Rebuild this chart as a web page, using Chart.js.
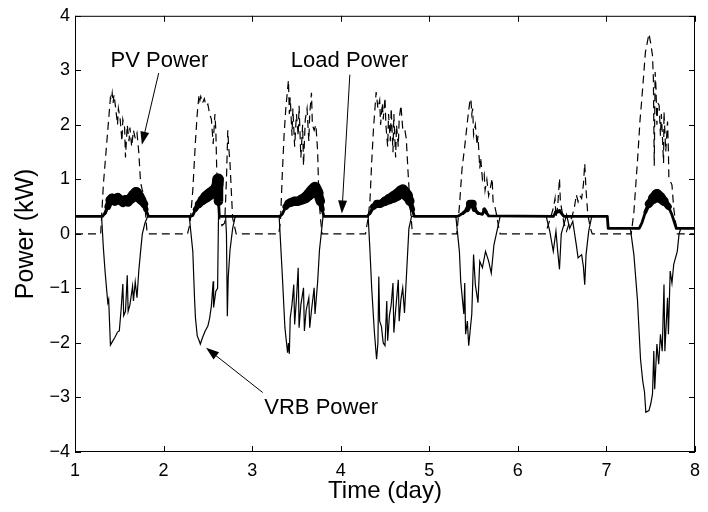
<!DOCTYPE html>
<html>
<head>
<meta charset="utf-8">
<script src="https://cdn.jsdelivr.net/npm/chart.js@4.4.0/dist/chart.umd.min.js"></script>
<style>
  html, body { margin: 0; padding: 0; background: #fff; }
  #chart { display: block; }
</style>
</head>
<body>
<canvas id="chart" width="708" height="512"></canvas>
<script>
// axis ticks
const xTicks = [1, 2, 3, 4, 5, 6, 7, 8];
const yTicks = [-4, -3, -2, -1, 0, 1, 2, 3, 4];

// PV power (kW), dashed
const pvTime = [
  1.00, 1.29, 1.32, 1.35, 1.38, 1.40, 1.41, 1.42, 1.43, 1.44, 1.46, 1.48, 1.49, 1.51, 1.53, 1.54, 1.56, 1.57, 1.59, 1.61, 1.62, 1.64, 1.66, 1.68, 1.70, 1.72, 1.74, 1.76, 1.78, 1.815,
  2.27, 2.30, 2.33, 2.36, 2.38, 2.40, 2.41, 2.42, 2.44, 2.46, 2.48, 2.50, 2.52, 2.54, 2.56, 2.58, 2.59, 2.60, 2.615, 2.63, 2.66, 2.69, 2.71, 2.725, 2.735, 2.75, 2.765, 2.78, 2.82,
  3.30, 3.32, 3.34, 3.36, 3.38, 3.41, 3.42, 3.43, 3.45, 3.46, 3.48, 3.50, 3.52, 3.53, 3.55, 3.57, 3.58, 3.60, 3.62, 3.64, 3.65, 3.67, 3.68, 3.70, 3.72, 3.74, 3.75, 3.77, 3.79,
  4.28, 4.31, 4.33, 4.35, 4.37, 4.40, 4.42, 4.44, 4.45, 4.47, 4.48, 4.50, 4.51, 4.53, 4.54, 4.56, 4.57, 4.59, 4.60, 4.62, 4.63, 4.65, 4.66, 4.68, 4.70, 4.72, 4.74, 4.76, 4.78, 4.81,
  5.31, 5.34, 5.37, 5.40, 5.42, 5.44, 5.46, 5.47, 5.48, 5.49, 5.50, 5.52, 5.54, 5.55, 5.57, 5.58, 5.60, 5.62, 5.63, 5.65, 5.67, 5.69, 5.71, 5.72, 5.74, 5.76, 5.78, 5.80,
  6.31, 6.34, 6.37, 6.40, 6.42, 6.43, 6.45, 6.47, 6.48, 6.50, 6.52, 6.55, 6.58, 6.61, 6.64, 6.66, 6.68, 6.70, 6.72, 6.74, 6.755, 6.77, 6.79, 6.82, 6.84,
  7.28, 7.31, 7.35, 7.38, 7.40, 7.42, 7.44, 7.46, 7.48, 7.50, 7.52, 7.53, 7.54, 7.55, 7.56, 7.57, 7.58, 7.595, 7.61, 7.62, 7.63, 7.645, 7.65, 7.67, 7.69, 7.70, 7.705, 7.74, 7.76, 7.79, 7.80, 8.00
];
const pvPower = [
  0, 0, 0.9, 1.5, 2.1, 2.5, 2.45, 2.58, 2.4, 2.55, 2.3, 2.0, 2.3, 2.1, 1.7, 2.1, 1.95, 1.4, 2.0, 1.7, 1.95, 1.6, 1.9, 1.75, 1.85, 1.5, 0.95, 0.8, 0.7, 0,
  0, 0.2, 0.8, 1.7, 2.2, 2.55, 2.45, 2.52, 2.4, 2.48, 2.35, 2.38, 2.2, 2.1, 1.65, 2.2, 1.9, 1.2, 0.5, 0.3, 0.15, 0.2, 1.0, 1.9, 1.6, 1.3, 0.78, 0.29, 0,
  0, 0.23, 1.08, 1.8, 2.3, 2.82, 2.2, 2.5, 1.8, 2.3, 1.6, 2.2, 1.8, 2.35, 1.4, 2.0, 1.25, 2.1, 2.3, 1.7, 2.2, 2.59, 2.0, 1.9, 2.0, 1.5, 0.85, 0.3, 0,
  0, 0.3, 0.6, 1.32, 1.93, 2.6, 2.3, 2.45, 2.0, 2.4, 2.1, 2.5, 2.0, 1.6, 2.2, 1.7, 2.3, 1.5, 2.2, 1.4, 2.0, 1.6, 2.1, 2.36, 1.93, 1.95, 1.75, 1.14, 0.6, 0,
  0, 0.5, 1.2, 1.6, 1.9, 2.2, 2.45, 2.48, 2.2, 2.3, 1.82, 2.0, 1.63, 1.8, 1.2, 1.4, 1.0, 1.1, 0.8, 1.0, 0.7, 0.85, 1.02, 0.6, 0.5, 0.35, 0.15, 0,
  0, 0.15, 0.3, 0.47, 0.65, 0.3, 0.5, 1.02, 0.6, 0.4, 0.2, 0.05, 0.2, 0.3, 0.5, 0.72, 0.59, 0.7, 0.65, 0.9, 1.29, 0.8, 0.35, 0.1, 0,
  0, 0.4, 1.32, 2.1, 2.48, 2.9, 3.33, 3.5, 3.67, 3.5, 3.27, 2.85, 1.25, 2.97, 2.66, 2.0, 2.4, 2.36, 1.8, 2.2, 1.87, 1.3, 2.24, 1.51, 2.06, 1.5, 1.02, 0.9, 0.47, 0.1, 0, 0
];

// Load power (kW), thick
const loadTime = [
  1.00, 1.31, 1.34, 1.37, 1.40, 1.42, 1.45, 1.48, 1.51, 1.54, 1.57, 1.60, 1.63, 1.66, 1.69, 1.72, 1.75, 1.78, 1.80, 1.83,
  2.30, 2.33, 2.36, 2.40, 2.44, 2.48, 2.52, 2.56, 2.59, 2.61, 2.615, 2.62, 2.63,
  3.31, 3.34, 3.38, 3.41, 3.44, 3.48, 3.52, 3.56, 3.60, 3.64, 3.68, 3.71, 3.74, 3.77, 3.79, 3.81,
  4.30, 4.33, 4.37, 4.41, 4.45, 4.50, 4.55, 4.60, 4.64, 4.68, 4.70, 4.72, 4.75, 4.78, 4.81, 4.83,
  5.32, 5.38, 5.43, 5.46, 5.49, 5.51, 5.55, 5.60, 5.62, 5.64, 5.67,
  6.40, 6.43, 6.47, 6.52, 7.01, 7.02,
  7.37, 7.40, 7.44, 7.48, 7.53, 7.57, 7.61, 7.65, 7.70, 7.74, 7.77, 7.79, 8.00
];
const loadPower = [
  0.32, 0.32, 0.38, 0.5, 0.62, 0.65, 0.6, 0.66, 0.62, 0.57, 0.63, 0.58, 0.65, 0.7, 0.75, 0.68, 0.62, 0.55, 0.45, 0.32,
  0.32, 0.34, 0.45, 0.55, 0.62, 0.68, 0.73, 0.78, 0.82, 0.9, 1.0, 0.6, 0.32,
  0.32, 0.36, 0.5, 0.56, 0.58, 0.6, 0.6, 0.63, 0.66, 0.72, 0.8, 0.85, 0.75, 0.6, 0.45, 0.32,
  0.32, 0.38, 0.5, 0.55, 0.55, 0.6, 0.64, 0.68, 0.72, 0.78, 0.8, 0.76, 0.7, 0.6, 0.45, 0.32,
  0.32, 0.38, 0.45, 0.55, 0.55, 0.45, 0.38, 0.36, 0.45, 0.4, 0.33,
  0.32, 0.4, 0.42, 0.32, 0.32, 0.1,
  0.1, 0.2, 0.4, 0.55, 0.65, 0.72, 0.66, 0.6, 0.5, 0.35, 0.2, 0.1, 0.1
];

// VRB power (kW), thin solid
const vrbTime = [
  1.00, 1.30, 1.32, 1.34, 1.37, 1.38, 1.40, 1.42, 1.45, 1.48, 1.50, 1.52, 1.54, 1.55, 1.57, 1.59, 1.60, 1.62, 1.65, 1.66, 1.68, 1.70, 1.72, 1.74, 1.76, 1.79, 1.82,
  2.29, 2.31, 2.33, 2.35, 2.36, 2.38, 2.40, 2.415, 2.44, 2.47, 2.50, 2.52, 2.54, 2.56, 2.565, 2.59, 2.61, 2.62, 2.70, 2.71, 2.72, 2.73, 2.75, 2.78, 2.81,
  3.305, 3.34, 3.37, 3.40, 3.41, 3.42, 3.43, 3.45, 3.47, 3.48, 3.50, 3.52, 3.53, 3.55, 3.58, 3.59, 3.61, 3.64, 3.65, 3.67, 3.70, 3.71, 3.74, 3.76, 3.78, 3.80,
  4.31, 4.33, 4.35, 4.38, 4.405, 4.42, 4.43, 4.44, 4.46, 4.48, 4.50, 4.52, 4.53, 4.55, 4.57, 4.59, 4.60, 4.62, 4.65, 4.66, 4.68, 4.70, 4.72, 4.745, 4.77, 4.80,
  5.30, 5.34, 5.355, 5.39, 5.40, 5.41, 5.43, 5.445, 5.46, 5.48, 5.50, 5.52, 5.55, 5.57, 5.60, 5.635, 5.67, 5.70, 5.73, 5.78, 5.80,
  6.32, 6.36, 6.40, 6.43, 6.45, 6.47, 6.49, 6.52, 6.55, 6.585, 6.62, 6.66, 6.68, 6.72, 6.74, 6.755, 6.77, 6.80, 6.83, 6.84, 7.01, 7.02,
  7.27, 7.31, 7.35, 7.385, 7.41, 7.43, 7.445, 7.48, 7.50, 7.52, 7.535, 7.545, 7.57, 7.59, 7.61, 7.63, 7.65, 7.66, 7.69, 7.70, 7.72, 7.74, 7.76, 7.80, 7.82, 7.84, 8.00
];
const vrbPower = [
  0.32, 0.32, -0.25, -0.7, -1.26, -1.2, -2.04, -1.98, -1.9, -1.8, -1.78, -1.4, -0.92, -1.5, -1.42, -0.76, -1.42, -1.3, -0.96, -1.23, -0.88, -1.17, -0.68, -0.33, 0.0, 0.2, 0.32,
  0.32, 0.0, -0.32, -1.2, -1.54, -1.87, -1.95, -2.02, -1.9, -1.78, -1.69, -1.55, -1.32, -0.87, -1.35, -1.05, -1.0, 0.32, 0.32, 0.0, -1.51, -0.8, -0.3, 0.1, 0.32,
  0.32, -0.74, -1.72, -2.18, -2.0, -2.2, -1.54, -1.3, -0.93, -1.66, -1.2, -0.62, -1.72, -1.3, -0.99, -1.78, -1.4, -1.17, -1.72, -1.4, -0.99, -1.47, -0.87, -0.3, 0.0, 0.32,
  0.32, -0.3, -1.0, -1.8, -2.3, -2.0, -0.78, -1.6, -1.7, -2.0, -2.05, -1.23, -1.96, -1.5, -1.3, -0.9, -1.81, -1.4, -0.84, -1.6, -1.2, -0.99, -1.45, -0.68, 0.1, 0.32,
  0.32, -0.32, -0.87, -1.47, -0.9, -1.84, -1.6, -2.05, -1.8, -1.47, -0.38, -0.93, -1.26, -0.5, -0.62, -0.32, -0.5, -0.72, -0.2, 0.17, 0.32,
  0.32, 0.05, -0.32, 0.05, -0.32, -0.65, 0.0, 0.17, 0.35, 0.1, 0.23, -0.2, -0.44, -0.38, -0.6, -0.93, -0.38, 0.05, 0.29, 0.32, 0.32, 0.1,
  0.1, -0.38, -1.2, -2.3, -2.7, -2.9, -3.27, -3.24, -3.12, -2.94, -2.15, -2.85, -2.02, -2.39, -1.84, -2.15, -0.93, -2.15, -1.17, -1.84, -0.68, -0.9, -0.56, -0.32, 0.0, 0.1, 0.1
];

// text labels with arrows, in data units (day, kW)
const notes = [
  { text: 'PV Power',   x: 1.954, y: 3.07,  from: [1.945, 2.95], to: [1.755, 1.635] },
  { text: 'Load Power', x: 4.10,  y: 3.06,  from: [4.103, 2.92], to: [4.013, 0.375] },
  { text: 'VRB Power',  x: 3.779, y: -3.30, from: [3.12, -2.91], to: [2.48, -2.09] }
];

const FONT = 'Liberation Sans, Arial, Helvetica, sans-serif';

function pts(t, v) {
  return t.map((x, i) => ({ x: x, y: v[i] }));
}

const framePlugin = {
  id: 'frame',
  afterDatasetsDraw(chart) {
    const { ctx, chartArea: a, scales: { x, y } } = chart;
    ctx.save();
    ctx.strokeStyle = '#000';
    ctx.lineWidth = 1;
    ctx.strokeRect(a.left + 0.5, a.top + 0.5, a.width - 1, a.height - 1);
    ctx.beginPath();
    xTicks.forEach(t => {
      const px = Math.round(x.getPixelForValue(t)) + 0.5;
      ctx.moveTo(px, a.bottom); ctx.lineTo(px, a.bottom - 6);
      ctx.moveTo(px, a.top); ctx.lineTo(px, a.top + 6);
    });
    yTicks.forEach(v => {
      const py = Math.round(y.getPixelForValue(v)) + 0.5;
      ctx.moveTo(a.left, py); ctx.lineTo(a.left + 6, py);
      ctx.moveTo(a.right, py); ctx.lineTo(a.right - 6, py);
    });
    ctx.stroke();

    // annotations
    ctx.fillStyle = '#000';
    ctx.font = '22px ' + FONT;
    ctx.textAlign = 'center';
    ctx.textBaseline = 'alphabetic';
    notes.forEach(n => {
      ctx.fillText(n.text, x.getPixelForValue(n.x), y.getPixelForValue(n.y));
      const x0 = x.getPixelForValue(n.from[0]), y0 = y.getPixelForValue(n.from[1]);
      const x1 = x.getPixelForValue(n.to[0]), y1 = y.getPixelForValue(n.to[1]);
      const ang = Math.atan2(y1 - y0, x1 - x0);
      const hl = 13, hw = 4.5;
      ctx.beginPath();
      ctx.moveTo(x0, y0);
      ctx.lineTo(x1 - Math.cos(ang) * hl * 0.8, y1 - Math.sin(ang) * hl * 0.8);
      ctx.stroke();
      const bx = x1 - Math.cos(ang) * hl, by = y1 - Math.sin(ang) * hl;
      ctx.beginPath();
      ctx.moveTo(x1, y1);
      ctx.lineTo(bx - Math.sin(ang) * hw, by + Math.cos(ang) * hw);
      ctx.lineTo(bx + Math.sin(ang) * hw, by - Math.cos(ang) * hw);
      ctx.closePath();
      ctx.fill();
    });
    ctx.restore();
  }
};

Chart.defaults.color = '#000';
Chart.defaults.font.family = FONT;

new Chart(document.getElementById('chart'), {
  type: 'line',
  data: {
    datasets: [
      {
        label: 'Load Power',
        data: pts(loadTime, loadPower),
        borderColor: '#000',
        borderWidth: 2.8,
        borderCapStyle: 'round',
        borderJoinStyle: 'round',
        // daytime load is very noisy: draw it as a wider band
        segment: {
          borderWidth: c => {
            const m = Math.min(c.p0.parsed.y, c.p1.parsed.y);
            return 2.8 + Math.max(0, Math.min(9, (m - 0.36) * 28));
          }
        }
      },
      {
        label: 'VRB Power',
        data: pts(vrbTime, vrbPower),
        borderColor: '#000',
        borderWidth: 1.2
      },
      {
        label: 'PV Power',
        data: pts(pvTime, pvPower),
        borderColor: '#000',
        borderWidth: 1.2,
        borderDash: [8, 5]
      }
    ]
  },
  options: {
    responsive: false,
    animation: false,
    events: [],
    elements: { point: { radius: 0 }, line: { tension: 0 } },
    layout: { padding: { left: 0, top: 13, right: 6, bottom: 0 } },
    plugins: { legend: { display: false }, tooltip: { enabled: false } },
    scales: {
      x: {
        type: 'linear',
        min: 1, max: 8,
        afterFit: s => { s.height = 60; },
        afterBuildTicks: s => { s.ticks = xTicks.map(v => ({ value: v })); },
        grid: { display: false, drawTicks: false },
        border: { display: false },
        ticks: { font: { size: 18 }, padding: 8, maxRotation: 0 },
        title: { display: true, text: 'Time (day)', font: { size: 24 }, padding: { top: 0, bottom: 6 } }
      },
      y: {
        type: 'linear',
        min: -4, max: 4,
        afterFit: s => { s.width = 75; },
        afterBuildTicks: s => { s.ticks = yTicks.map(v => ({ value: v })); },
        grid: { display: false, drawTicks: false },
        border: { display: false },
        ticks: {
          font: { size: 18 }, padding: 5,
          callback: v => String(v).replace('-', '\u2212')
        },
        title: { display: true, text: 'Power (kW)', font: { size: 25 }, padding: { top: 11, bottom: 0 } }
      }
    }
  },
  plugins: [framePlugin]
});
</script>
</body>
</html>
